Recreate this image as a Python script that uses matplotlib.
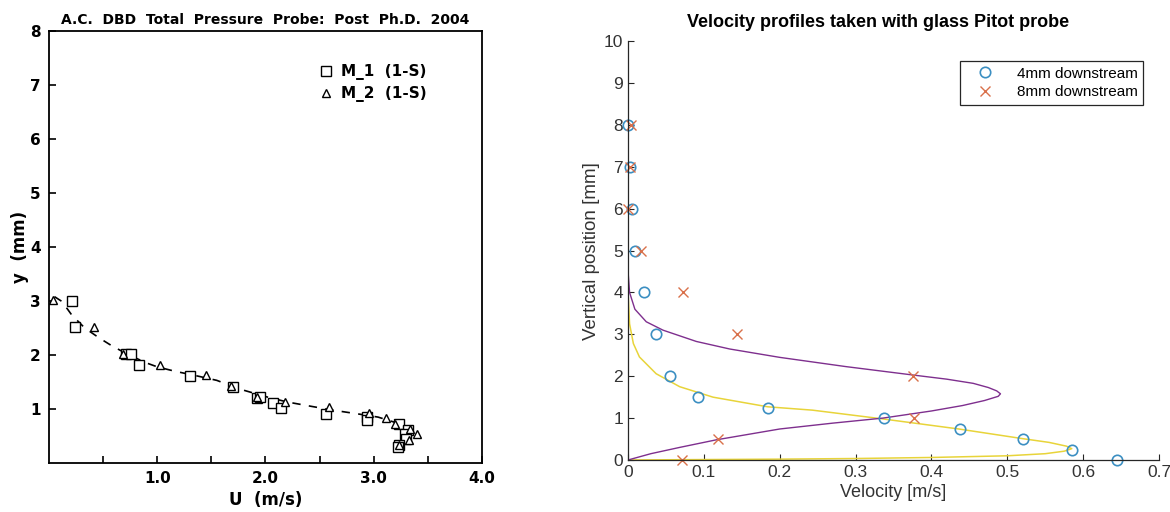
import matplotlib
matplotlib.use("Agg")
import matplotlib.pyplot as plt
from matplotlib.ticker import MultipleLocator, FixedLocator

# ---- left panel data: total pressure probe ----
m1_u = [0.21, 0.24, 0.71, 0.76, 0.83, 1.30, 1.70, 1.92, 1.95, 2.07, 2.14,
        2.56, 2.94, 2.94, 3.23, 3.32, 3.29, 3.30, 3.23, 3.22]
m1_y = [3.00, 2.52, 2.01, 2.01, 1.81, 1.61, 1.41, 1.21, 1.22, 1.11, 1.01,
        0.91, 0.85, 0.80, 0.72, 0.62, 0.53, 0.45, 0.34, 0.30]
m2_u = [0.04, 0.42, 0.68, 1.03, 1.45, 1.68, 1.92, 2.18, 2.59, 2.96, 3.11,
        3.20, 3.34, 3.40, 3.33, 3.23]
m2_y = [3.02, 2.52, 2.02, 1.82, 1.62, 1.43, 1.23, 1.13, 1.03, 0.93, 0.83,
        0.73, 0.63, 0.54, 0.43, 0.34]
fit_u = [0.05, 0.12, 0.21, 0.33, 0.46, 0.58, 0.72, 0.89, 1.00, 1.16, 1.35,
         1.55, 1.76, 2.00, 2.20, 2.42, 2.65, 2.85, 3.04, 3.20]
fit_y = [3.08, 2.99, 2.74, 2.50, 2.32, 2.17, 2.02, 1.86, 1.78, 1.70, 1.62,
         1.53, 1.37, 1.23, 1.13, 1.05, 0.97, 0.91, 0.85, 0.75]

# ---- right panel data: glass Pitot probe ----
pos_mm = [8, 7, 6, 5, 4, 3, 2, 1.5, 1.25, 1.0, 0.75, 0.5, 0.25, 0]
v4 = [0.0, 0.003, 0.005, 0.009, 0.021, 0.037, 0.055, 0.092, 0.184, 0.337,
      0.437, 0.521, 0.585, 0.644]
pos8_mm = [8, 7, 6, 5, 4, 3, 2, 1, 0.5, 0]
v8 = [0.004, 0.003, 0.0, 0.017, 0.073, 0.143, 0.376, 0.377, 0.119, 0.071]

# fitted profiles
fit8_v = [0.0, 0.03, 0.068, 0.116, 0.20, 0.27, 0.336, 0.40, 0.441, 0.47,
          0.488, 0.491, 0.486, 0.475, 0.455, 0.42, 0.375, 0.287, 0.20,
          0.134, 0.09, 0.046, 0.024, 0.009, 0.002, 0.0, 0.0]
fit8_y = [0.0, 0.15, 0.30, 0.48, 0.74, 0.88, 1.00, 1.17, 1.30, 1.42,
          1.52, 1.58, 1.65, 1.73, 1.83, 1.93, 2.03, 2.23, 2.45,
          2.65, 2.83, 3.10, 3.30, 3.60, 4.00, 4.50, 8.00]
fit4_v = [0.0, 0.10, 0.20, 0.30, 0.40, 0.50, 0.55, 0.575, 0.585, 0.578,
          0.555, 0.52, 0.436, 0.336, 0.243, 0.184, 0.112, 0.068, 0.037,
          0.015, 0.007, 0.002, 0.0, 0.0]
fit4_y = [0.0, 0.01, 0.02, 0.035, 0.06, 0.10, 0.15, 0.21, 0.27, 0.33,
          0.42, 0.51, 0.74, 0.98, 1.19, 1.27, 1.50, 1.75, 2.06,
          2.46, 2.78, 3.25, 4.00, 8.00]

fig = plt.figure(figsize=(11.7, 5.12), dpi=100)

# ---------------- left ----------------
ax1 = fig.add_axes([0.0419, 0.0957, 0.370, 0.844])
bold = dict(family="DejaVu Sans", weight="bold")
ax1.plot(fit_u, fit_y, color="black", lw=1.2, ls=(0, (5, 5)))
ax1.plot(m1_u, m1_y, ls="none", marker="s", ms=7, mfc="white", mec="black",
         mew=1.0, label="M_1  (1-S)", clip_on=False)
ax1.plot(m2_u, m2_y, ls="none", marker="^", ms=5.5, mfc="white", mec="black",
         mew=1.0, label="M_2  (1-S)", clip_on=False)
ax1.set_xlim(0, 4)
ax1.set_ylim(0, 8)
ax1.xaxis.set_major_locator(FixedLocator([1, 2, 3, 4]))
ax1.xaxis.set_minor_locator(FixedLocator([0.5, 1.5, 2.5, 3.5]))
ax1.yaxis.set_major_locator(FixedLocator([1, 2, 3, 4, 5, 6, 7, 8]))
ax1.set_xticklabels(["1.0", "2.0", "3.0", "4.0"], **bold, fontsize=11)
ax1.set_yticklabels([str(i) for i in range(1, 9)], **bold, fontsize=11)
ax1.tick_params(which="both", direction="in", top=False, right=False)
ax1.tick_params(which="major", length=5, width=1.2, pad=6)
ax1.tick_params(which="minor", length=5, width=1.2)
for s in ax1.spines.values():
    s.set_linewidth(1.3)
ax1.set_xlabel("U  (m/s)", **bold, fontsize=12, labelpad=3)
ax1.set_ylabel("y  (mm)", **bold, fontsize=12, labelpad=1)
ax1.set_title("A.C.  DBD  Total  Pressure  Probe:  Post  Ph.D.  2004",
              **bold, fontsize=10, pad=5)
ax1.legend(loc="upper right", bbox_to_anchor=(0.905, 0.955), frameon=False,
           prop=dict(family="DejaVu Sans", weight="bold", size=11),
           handlelength=0.8, handletextpad=0.6, labelspacing=0.4)

# ---------------- right ----------------
ax2 = fig.add_axes([0.5368, 0.1016, 0.4538, 0.818])
ax2.plot(fit4_v, fit4_y, color="#E8D43A", lw=1.1)
ax2.plot(fit8_v, fit8_y, color="#7E2F8E", lw=1.0)
ax2.plot(v4, pos_mm, ls="none", marker="o", ms=7.5, mfc="none", mec="#3C8FC2",
         mew=1.2, label="4mm downstream", clip_on=False)
ax2.plot(v8, pos8_mm, ls="none", marker="x", ms=6.5, mec="#D9704A",
         mew=1.0, label="8mm downstream", clip_on=False)
ax2.set_xlim(0, 0.7)
ax2.set_ylim(0, 10)
ax2.yaxis.set_major_locator(MultipleLocator(1))
ax2.set_xticks([0, 0.1, 0.2, 0.3, 0.4, 0.5, 0.6, 0.7])
ax2.set_xticklabels(["0", "0.1", "0.2", "0.3", "0.4", "0.5", "0.6", "0.7"])
ax2.spines["top"].set_visible(False)
ax2.spines["right"].set_visible(False)
for s in ("left", "bottom"):
    ax2.spines[s].set_color("#262626")
    ax2.spines[s].set_linewidth(0.9)
ax2.tick_params(direction="in", length=4, width=0.8, colors="#262626",
                labelsize=12.5, labelcolor="#333333")
for lab in ax2.get_xticklabels() + ax2.get_yticklabels():
    lab.set_family("Liberation Sans")
ax2.set_xlabel("Velocity [m/s]", family="Liberation Sans", fontsize=13,
               color="#333333", labelpad=3)
ax2.set_ylabel("Vertical position [mm]", family="Liberation Sans", fontsize=13.5,
               color="#333333", labelpad=3)
ax2.set_title("Velocity profiles taken with glass Pitot probe",
              family="Liberation Sans", weight="bold", fontsize=13, pad=10,
              x=0.47)
leg2 = ax2.legend(loc="upper right", bbox_to_anchor=(0.985, 0.97), fancybox=False,
                  edgecolor="#262626", framealpha=1,
                  prop=dict(family="Liberation Sans", size=11),
                  handlelength=2.6, handletextpad=0.8, borderpad=0.35,
                  labelspacing=0.3)
leg2.get_frame().set_linewidth(0.9)

fig.savefig("out.png", dpi=100)
